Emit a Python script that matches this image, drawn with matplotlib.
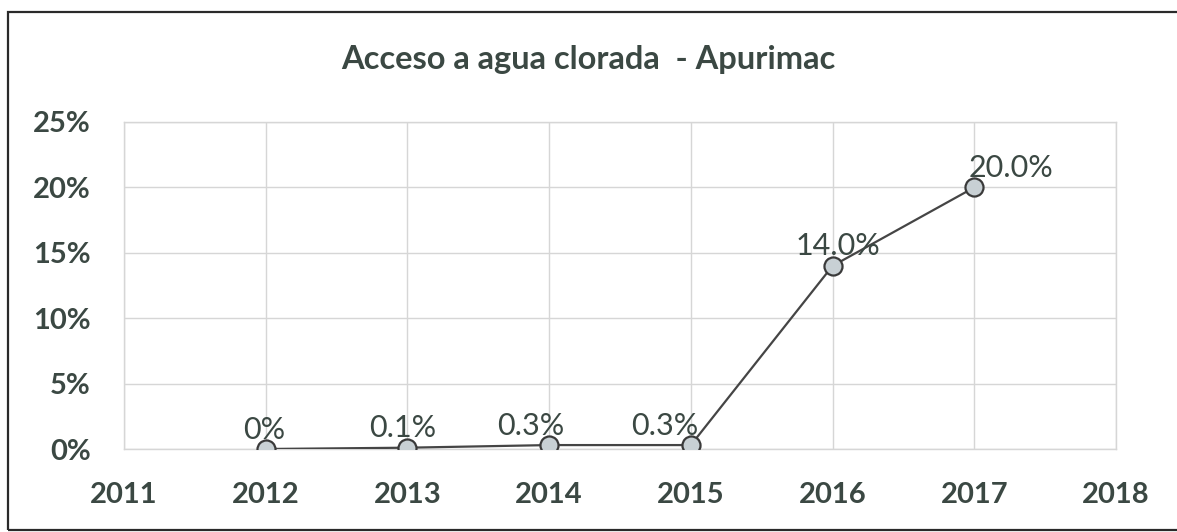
import matplotlib
matplotlib.use("Agg")
import matplotlib.pyplot as plt
from matplotlib.patches import Rectangle
from matplotlib.ticker import FuncFormatter

# ---- data ----
years = [2012, 2013, 2014, 2015, 2016, 2017]
values = [0.0, 0.1, 0.3, 0.3, 14.0, 20.0]          # percent
value_labels = ["0%", "0.1%", "0.3%", "0.3%", "14.0%", "20.0%"]
x_ticks = [2011, 2012, 2013, 2014, 2015, 2016, 2017, 2018]
y_ticks = [0, 5, 10, 15, 20, 25]
title = "Acceso a agua clorada  - Apurimac"

# ---- style ----
plt.rcParams["font.family"] = ["Lato", "DejaVu Sans"]
text_color = "#3b4843"
weight = "bold"
label_dx = [-2, -5, -18, -26, 5, 37]   # pixel nudges of data labels (style)

fig = plt.figure(figsize=(11.77, 5.32), dpi=100)
ax = fig.add_axes([124 / 1177, 1 - 449 / 532, (1116 - 124) / 1177, (449 - 122) / 532])

# outer chart border
fig.patches.append(Rectangle((8 / 1177, 2 / 532), 1.2, 518 / 532, transform=fig.transFigure,
                             fill=False, edgecolor="#2a2a2a", linewidth=1.6))

ax.plot(years, values, color="#454545", linewidth=1.6, marker="o", markersize=13,
        markerfacecolor="#c8d0d4", markeredgecolor="#3a3a3a", markeredgewidth=1.6, zorder=3)

for x, y, lab, dx in zip(years, values, value_labels, label_dx):
    ax.annotate(lab, (x, y), xytext=(dx * 0.72, 14), textcoords="offset points",
                ha="center", va="center", fontsize=22, color=text_color,
                fontweight="normal", zorder=4)

ax.set_xlim(x_ticks[0], x_ticks[-1])
ax.set_ylim(y_ticks[0], y_ticks[-1])
ax.set_xticks(x_ticks)
ax.set_yticks(y_ticks)
ax.yaxis.set_major_formatter(FuncFormatter(lambda v, p: f"{v:.0f}%"))
ax.grid(True, color="#d6d6d6", linewidth=1.0)
ax.set_axisbelow(True)
for s in ax.spines.values():
    s.set_color("#d6d6d6")
    s.set_linewidth(1.0)
ax.tick_params(axis="both", length=0, labelsize=21, labelcolor=text_color)
for lbl in ax.get_xticklabels() + ax.get_yticklabels():
    lbl.set_fontweight(weight)
ax.tick_params(axis="y", pad=24)
ax.tick_params(axis="x", pad=24)

fig.text(0.5, 1 - 60 / 532, title, ha="center", va="center", fontsize=23.5,
         color=text_color, fontweight="bold")

fig.savefig("out.png", dpi=100)
